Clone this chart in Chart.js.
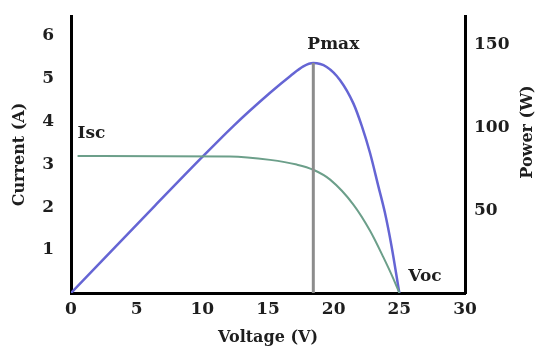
<!DOCTYPE html>
<html>
<head>
<meta charset="utf-8">
<title>PV characteristic</title>
<script src="https://cdn.jsdelivr.net/npm/chart.js@4.4.0/dist/chart.umd.min.js"></script>
<style>
  html, body { margin: 0; padding: 0; background: #fff; }
  #wrap { width: 542px; height: 350px; }
</style>
</head>
<body>
<div id="wrap"><canvas id="pvChart" width="542" height="350"></canvas></div>
<script>
/* ── Data ─────────────────────────────────────────────── */
// P-V curve (right axis, W)
const powerVolts = [0, 6.4, 9.85, 12.4, 15.16, 16.68, 17.69, 18.45, 19.47, 20.49, 21.5, 22.14, 22.77, 23.4, 23.9, 24.4, 25.0];
const powerWatts = [0, 52.8, 81, 101.2, 121, 131, 137, 139, 136.6, 128.6, 114.6, 101, 84.6, 64.6, 48.6, 28.6, 0];

// I-V curve (left axis, A)
const currentVolts = [0.5, 12.1, 15.16, 17.19, 18.45, 19.73, 21.5, 22.77, 23.79, 24.55, 25.0];
const currentAmps  = [3.19, 3.18, 3.10, 2.99, 2.87, 2.64, 2.06, 1.45, 0.83, 0.33, 0];

// maximum power point
const pmaxVolts = 18.45;
const pmaxWatts = 139;

const voltageTicks = [0, 5, 10, 15, 20, 25, 30];
const currentTicks = [1, 2, 3, 4, 5, 6];
const powerTicks   = [50, 100, 150];

/* ── Styling ──────────────────────────────────────────── */
const FONT = '"DejaVu Serif", serif';
const INK = '#1e1e1e';
const BLUE = '#6565d4';
const GREEN = '#6c9f8a';
const GREY = '#8c8c8c';

const toPoints = (xs, ys) => xs.map((x, i) => ({ x, y: ys[i] }));
const fixTicks = list => scale => { scale.ticks = list.map(value => ({ value })); };
// fixed axis width, and no extra room reserved for the end tick labels
const fixWidth = w => s => { s.width = w; s.paddingTop = 0; s.paddingBottom = 0; };

/* ── Text labels drawn on top of the curves ───────────── */
const curveLabels = {
  id: 'curveLabels',
  afterDatasetsDraw(chart) {
    const { ctx, scales: { x, yI, yP } } = chart;
    ctx.save();
    ctx.fillStyle = INK;
    ctx.font = 'bold 17px ' + FONT;
    ctx.textBaseline = 'middle';

    ctx.textAlign = 'left';
    ctx.fillText('Isc', x.getPixelForValue(currentVolts[0]), yI.getPixelForValue(currentAmps[0]) - 22);
    ctx.fillText('Voc', x.getPixelForValue(currentVolts[currentVolts.length - 1]) + 9,
                 yI.getPixelForValue(0) - 16);

    ctx.textAlign = 'center';
    ctx.fillText('Pmax', x.getPixelForValue(pmaxVolts) + 20, yP.getPixelForValue(pmaxWatts) - 18);

    // right-hand axis title, reading upwards
    ctx.font = 'bold 16px ' + FONT;
    ctx.translate(528, 132);
    ctx.rotate(-Math.PI / 2);
    ctx.fillText('Power (W)', 0, 0);
    ctx.restore();
  }
};

/* ── Chart ────────────────────────────────────────────── */
const tickFont = { family: FONT, size: 17, weight: 'bold' };

new Chart(document.getElementById('pvChart'), {
  type: 'line',
  data: {
    datasets: [
      {
        label: 'Pmax',
        data: toPoints([pmaxVolts, pmaxVolts], [0, pmaxWatts]),
        yAxisID: 'yP',
        borderColor: GREY,
        borderWidth: 3,
        pointRadius: 0
      },
      {
        label: 'Current',
        data: toPoints(currentVolts, currentAmps),
        yAxisID: 'yI',
        borderColor: GREEN,
        borderWidth: 2,
        pointRadius: 0,
        cubicInterpolationMode: 'monotone'
      },
      {
        label: 'Power',
        data: toPoints(powerVolts, powerWatts),
        yAxisID: 'yP',
        borderColor: BLUE,
        borderWidth: 2.5,
        pointRadius: 0,
        cubicInterpolationMode: 'monotone'
      }
    ]
  },
  options: {
    responsive: false,
    animation: false,
    layout: { padding: { top: 16, left: 0, right: 0, bottom: 0 } },
    plugins: {
      legend: { display: false },
      tooltip: { enabled: false }
    },
    scales: {
      x: {
        type: 'linear',
        min: 0,
        max: 30,
        afterBuildTicks: fixTicks(voltageTicks),
        afterFit: s => { s.height = 57; s.paddingLeft = 0; s.paddingRight = 0; },
        grid: { display: false, drawTicks: false },
        border: { display: true, color: '#000', width: 3 },
        ticks: { color: INK, font: tickFont, padding: 6, maxRotation: 0 },
        title: {
          display: true,
          text: 'Voltage (V)',
          color: INK,
          font: { family: FONT, size: 16, weight: 'bold' },
          padding: { top: 0, bottom: 3 }
        }
      },
      yI: {
        type: 'linear',
        position: 'left',
        min: 0,
        max: 6.45,
        afterBuildTicks: fixTicks(currentTicks),
        afterFit: fixWidth(71),
        grid: { display: false, drawTicks: false },
        border: { display: true, color: '#000', width: 3 },
        ticks: { color: INK, font: tickFont, padding: 17 },
        title: {
          display: true,
          text: 'Current (A)',
          color: INK,
          font: { family: FONT, size: 16, weight: 'bold' },
          padding: { top: 10, bottom: 0 }
        }
      },
      yP: {
        type: 'linear',
        position: 'right',
        min: 0,
        max: 167.4,
        afterBuildTicks: fixTicks(powerTicks),
        afterFit: fixWidth(77),
        grid: { display: false, drawTicks: false },
        border: { display: true, color: '#000', width: 3 },
        ticks: { color: INK, font: tickFont, padding: 9 }
      }
    }
  },
  plugins: [curveLabels]
});
</script>
</body>
</html>
